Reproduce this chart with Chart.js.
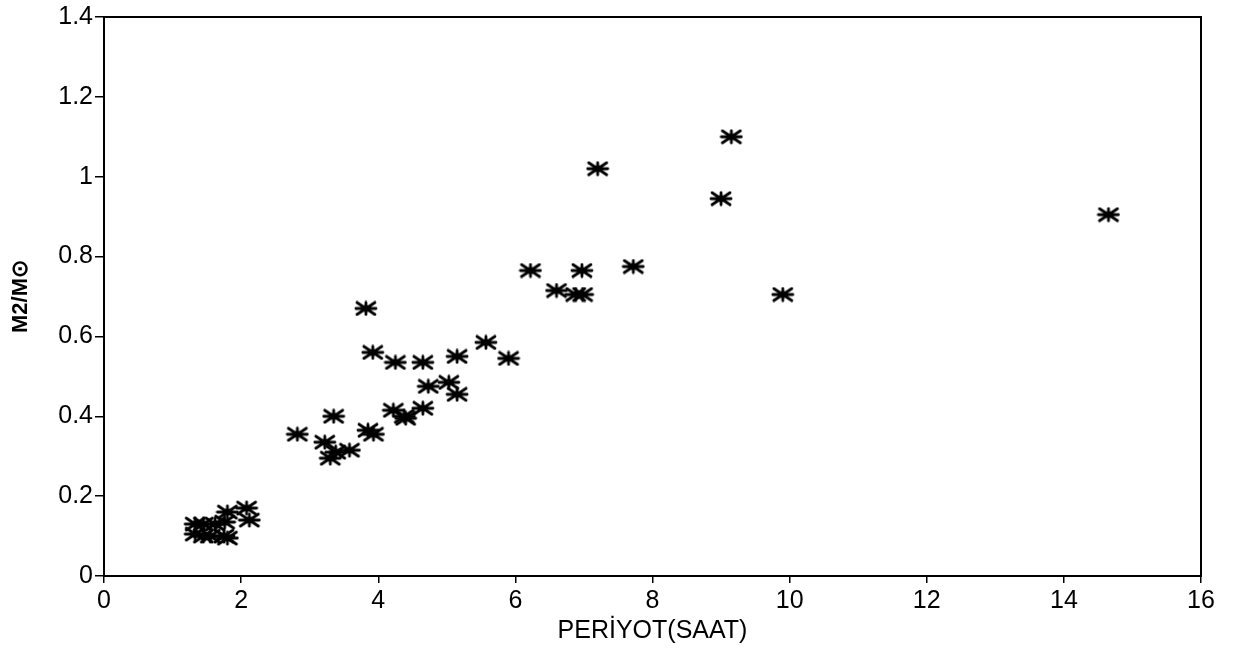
<!DOCTYPE html>
<html>
<head>
<meta charset="utf-8">
<script src="https://cdn.jsdelivr.net/npm/chart.js@4.4.1/dist/chart.umd.min.js"></script>
<style>
  body { margin: 0; background: #fff; }
  #wrap { width: 1234px; height: 651px; }
</style>
</head>
<body>
<div id="wrap"><canvas id="massChart"></canvas></div>
<script>
// periyot (saat) / kütle oranı M2/M☉
const periyot = [
  1.33, 1.45, 1.62, 1.76, 1.80, 2.08, 2.12, 1.33, 1.45, 1.55, 1.75, 1.80,
  2.82, 3.22, 3.30, 3.38, 3.58, 3.35, 3.85, 3.93, 4.22, 4.38, 4.40, 4.65,
  4.73, 5.03, 5.15, 3.82, 3.92, 4.25, 4.65, 5.15, 5.57, 5.90,
  6.22, 6.97, 7.72, 6.60, 6.88, 6.98, 7.20, 9.15, 9.00, 9.90, 14.65
];
const kutle = [
  0.13, 0.13, 0.13, 0.135, 0.16, 0.17, 0.14, 0.105, 0.10, 0.10, 0.10, 0.095,
  0.355, 0.335, 0.295, 0.31, 0.315, 0.40, 0.365, 0.355, 0.415, 0.40, 0.395, 0.42,
  0.475, 0.485, 0.455, 0.67, 0.56, 0.535, 0.535, 0.55, 0.585, 0.545,
  0.765, 0.765, 0.775, 0.715, 0.705, 0.705, 1.02, 1.10, 0.945, 0.705, 0.905
];
const xTicks = [0, 2, 4, 6, 8, 10, 12, 14, 16];
const yTicks = [0, 0.2, 0.4, 0.6, 0.8, 1, 1.2, 1.4];

const FONT = "'Liberation Sans', Arial, Helvetica, sans-serif";

// yıldız (asterisk) işareti
function makeStar() {
  const c = document.createElement("canvas");
  c.width = 24;
  c.height = 16;
  const g = c.getContext("2d");
  g.strokeStyle = "#000";
  g.lineWidth = 2.8;
  g.lineCap = "round";
  g.beginPath();
  g.moveTo(2, 8); g.lineTo(22, 8);
  g.moveTo(3, 2); g.lineTo(21, 14);
  g.moveTo(3, 14); g.lineTo(21, 2);
  g.moveTo(12, 2); g.lineTo(12, 14);
  g.stroke();
  g.fillStyle = "#000";
  g.beginPath();
  g.ellipse(12, 8, 5, 3.5, 0, 0, Math.PI * 2);
  g.fill();
  return c;
}
const star = makeStar();

// çerçeve
const frame = {
  id: "frame",
  afterDraw(chart) {
    const a = chart.chartArea;
    const ctx = chart.ctx;
    ctx.save();
    ctx.strokeStyle = "#000";
    ctx.lineWidth = 2;
    ctx.strokeRect(a.left, a.top, a.right - a.left, a.bottom - a.top);
    ctx.restore();
  },
};

const fmt = (v) => String(+Number(v).toFixed(1));

new Chart(document.getElementById("massChart"), {
  type: "scatter",
  data: {
    datasets: [
      {
        data: periyot.map((p, i) => ({ x: p, y: kutle[i] })),
        pointStyle: star,
        pointRadius: 10,
      },
    ],
  },
  options: {
    responsive: true,
    maintainAspectRatio: false,
    animation: false,
    layout: { padding: { top: 9, right: 33, left: 0, bottom: 0 } },
    plugins: { legend: { display: false }, tooltip: { enabled: false } },
    scales: {
      x: {
        type: "linear",
        min: 0,
        max: 16,
        afterBuildTicks: (s) => { s.ticks = xTicks.map((v) => ({ value: v })); },
        afterFit: (s) => { s.height = 75; },
        border: { display: true, color: "#000", width: 2 },
        grid: { drawOnChartArea: false, drawTicks: true, tickLength: 7, color: "#000", lineWidth: 1.5 },
        ticks: { color: "#000", padding: 3, callback: fmt, font: { family: FONT, size: 25 } },
        title: {
          display: true,
          text: "PERİYOT(SAAT)",
          color: "#000",
          padding: { top: 0, bottom: 5 },
          font: { family: FONT, size: 25 },
        },
      },
      y: {
        type: "linear",
        min: 0,
        max: 1.4,
        afterBuildTicks: (s) => { s.ticks = yTicks.map((v) => ({ value: v })); },
        afterFit: (s) => { s.width = 104; },
        border: { display: true, color: "#000", width: 2 },
        grid: { drawOnChartArea: false, drawTicks: true, tickLength: 9, color: "#000", lineWidth: 1.5 },
        ticks: { color: "#000", padding: 2, callback: fmt, font: { family: FONT, size: 25 } },
        title: {
          display: true,
          text: "M2/M⊙",
          color: "#000",
          padding: { top: 8, bottom: 0 },
          font: { family: FONT, size: 22, weight: "bold" },
        },
      },
    },
  },
  plugins: [frame],
});
</script>
</body>
</html>
